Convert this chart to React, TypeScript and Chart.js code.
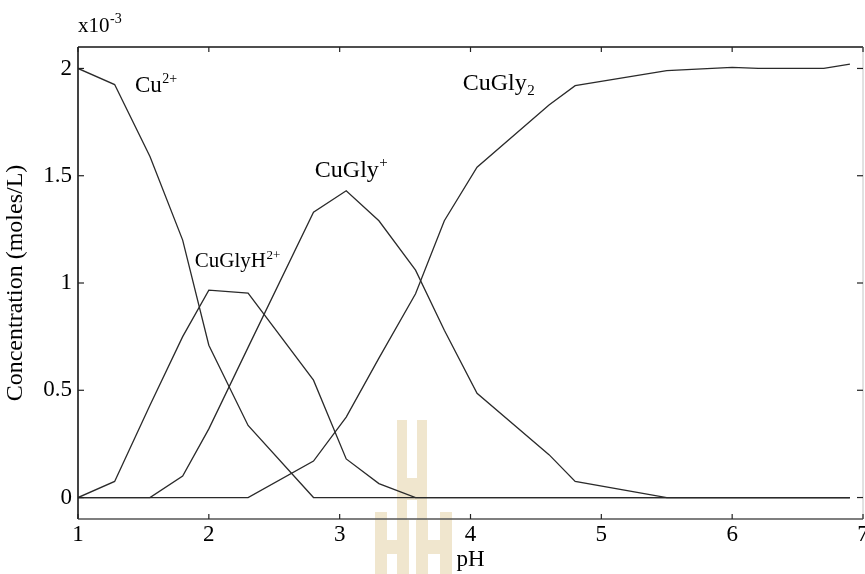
import React, { useEffect, useRef } from 'react';
import { Chart, registerables } from 'chart.js';

Chart.register(...registerables);

// pH sample points shared by all species
const pH = [1.0, 1.28, 1.55, 1.8, 2.0, 2.3, 2.8, 3.05, 3.3, 3.58, 3.8, 4.05, 4.6, 4.8, 5.5, 6.0, 6.2, 6.7, 6.9];
// concentrations in units of 1e-3 mol/L
const cu2 = [2.0, 1.925, 1.59, 1.2, 0.71, 0.336, 0, 0, 0, 0, 0, 0, 0, 0, 0, 0, 0, 0, 0];
const cuGlyH = [0, 0.075, 0.43, 0.75, 0.967, 0.953, 0.547, 0.18, 0.065, 0, 0, 0, 0, 0, 0, 0, 0, 0, 0];
const cuGly = [0, 0, 0, 0.1, 0.32, 0.7, 1.33, 1.43, 1.29, 1.06, 0.78, 0.486, 0.2, 0.075, 0, 0, 0, 0, 0];
const cuGly2 = [0, 0, 0, 0, 0, 0, 0.17, 0.375, 0.65, 0.95, 1.29, 1.54, 1.83, 1.92, 1.99, 2.005, 2.0, 2.0, 2.02];

const seriesNames = ['Cu2+', 'CuGlyH2+', 'CuGly+', 'CuGly2'];

const xTicks = [1, 2, 3, 4, 5, 6, 7];
const yTicks = [0, 0.5, 1, 1.5, 2];

// curve labels (anchored in data coordinates)
const labelMain = ['Cu', 'CuGlyH', 'CuGly', 'CuGly'];
const labelSup = ['2+', '2+', '+', ''];
const labelSub = ['', '', '', '2'];
const labelPH = [1.435, 1.893, 2.81, 3.94];
const labelConc = [1.89, 1.075, 1.494, 1.9];
const labelSize = [23, 21, 24, 24];

const SERIF = '"Liberation Serif", "Times New Roman", serif';

function drawRich(ctx: CanvasRenderingContext2D, x: number, y: number, main: string, sup: string, sub: string, size: number) {
  ctx.textBaseline = 'alphabetic';
  ctx.textAlign = 'left';
  ctx.font = `${size}px ${SERIF}`;
  ctx.fillText(main, x, y);
  const w = ctx.measureText(main).width;
  const small = Math.round(size * 0.62);
  ctx.font = `${small}px ${SERIF}`;
  if (sup) ctx.fillText(sup, x + w + 0.5, y - size * 0.4);
  if (sub) ctx.fillText(sub, x + w + 0.5, y + size * 0.2);
}

const decorPlugin = {
  id: 'decor',
  beforeDraw(chart: any) {
    const ctx = chart.ctx as CanvasRenderingContext2D;
    ctx.save();
    ctx.fillStyle = 'rgb(240,230,206)';
    // faint watermark
    ctx.fillRect(397, 420, 10, 100);
    ctx.fillRect(417, 420, 10, 100);
    ctx.fillRect(407, 478, 10, 22);
    ctx.fillRect(375, 512, 12, 62);
    ctx.fillRect(397, 520, 12, 54);
    ctx.fillRect(416, 520, 12, 54);
    ctx.fillRect(440, 512, 12, 62);
    ctx.fillRect(387, 540, 10, 14);
    ctx.fillRect(428, 540, 12, 14);
    ctx.restore();
  },
  afterDraw(chart: any) {
    const ctx = chart.ctx as CanvasRenderingContext2D;
    const { left, right, top, bottom } = chart.chartArea;
    const xs = chart.scales.x;
    const ys = chart.scales.y;
    ctx.save();
    const line = (x1: number, y1: number, x2: number, y2: number) => {
      ctx.beginPath();
      ctx.moveTo(x1, y1);
      ctx.lineTo(x2, y2);
      ctx.stroke();
    };
    ctx.lineWidth = 1.6;
    ctx.strokeStyle = '#151515';
    line(left, top, right, top);
    line(left, top, left, bottom);
    ctx.strokeStyle = '#555';
    ctx.lineWidth = 1.4;
    line(left, bottom, right, bottom);
    ctx.strokeStyle = '#c4c4c4';
    ctx.lineWidth = 1;
    line(right, top, right, bottom);

    ctx.strokeStyle = '#222';
    ctx.lineWidth = 1.2;
    for (const v of xTicks) {
      const px = xs.getPixelForValue(v);
      line(px, bottom, px, bottom - 5);
      line(px, top, px, top + 5);
    }
    for (const v of yTicks) {
      const py = ys.getPixelForValue(v);
      line(left, py, left + 6, py);
      line(right, py, right - 6, py);
    }

    ctx.fillStyle = '#000';
    for (let i = 0; i < labelMain.length; i++) {
      drawRich(ctx, xs.getPixelForValue(labelPH[i]), ys.getPixelForValue(labelConc[i]), labelMain[i], labelSup[i], labelSub[i], labelSize[i]);
    }
    // exponent marker
    ctx.font = `21px ${SERIF}`;
    ctx.textBaseline = 'alphabetic';
    ctx.fillText('x10', left, top - 15);
    const w = ctx.measureText('x10').width;
    ctx.font = `14px ${SERIF}`;
    ctx.fillText('-3', left + w + 0.5, top - 24);
    ctx.restore();
  },
};

export default function App() {
  const ref = useRef<HTMLCanvasElement>(null);
  useEffect(() => {
    document.body.style.margin = '0';
    document.body.style.overflow = 'hidden';
    const canvas = ref.current;
    if (!canvas) return;
    const series = [cu2, cuGlyH, cuGly, cuGly2];
    const chart = new Chart(canvas, {
      type: 'line',
      data: {
        datasets: series.map((s, i) => ({
          label: seriesNames[i],
          data: pH.map((x, j) => ({ x, y: s[j] })),
          borderColor: '#2a2a2a',
          borderWidth: 1.3,
          pointRadius: 0,
          tension: 0,
          fill: false,
        })),
      },
      options: {
        responsive: false,
        animation: false,
        layout: { padding: { top: 47, right: 2, left: 0, bottom: 0 } },
        plugins: { legend: { display: false }, tooltip: { enabled: false } },
        scales: {
          x: {
            type: 'linear',
            min: 1,
            max: 7,
            afterBuildTicks: (s: any) => {
              s.ticks = xTicks.map((v) => ({ value: v }));
            },
            afterFit: (s: any) => {
              s.height = 55;
              s.paddingLeft = 0;
              s.paddingRight = 0;
            },
            grid: { display: false, drawTicks: false },
            border: { display: false },
            ticks: {
              font: { family: SERIF, size: 23 },
              color: '#000',
              padding: 2,
              maxRotation: 0,
              autoSkip: false,
            },
            title: {
              display: true,
              text: 'pH',
              font: { family: SERIF, size: 23 },
              color: '#000',
              padding: { top: 0, bottom: 0 },
            },
          },
          y: {
            type: 'linear',
            min: -0.1,
            max: 2.1,
            afterBuildTicks: (s: any) => {
              s.ticks = yTicks.map((v) => ({ value: v }));
            },
            afterFit: (s: any) => {
              s.width = 78;
              s.paddingTop = 0;
              s.paddingBottom = 0;
            },
            grid: { display: false, drawTicks: false },
            border: { display: false },
            ticks: {
              font: { family: SERIF, size: 23 },
              color: '#000',
              padding: 6,
              autoSkip: false,
              callback: (v: any) => String(v),
            },
            title: {
              display: true,
              text: 'Concentration (moles/L)',
              font: { family: SERIF, size: 24 },
              color: '#000',
              padding: { top: 1, bottom: 0 },
            },
          },
        },
      },
      plugins: [decorPlugin],
    });
    return () => chart.destroy();
  }, []);
  return <canvas ref={ref} width={865} height={574} style={{ display: 'block' }} />;
}
